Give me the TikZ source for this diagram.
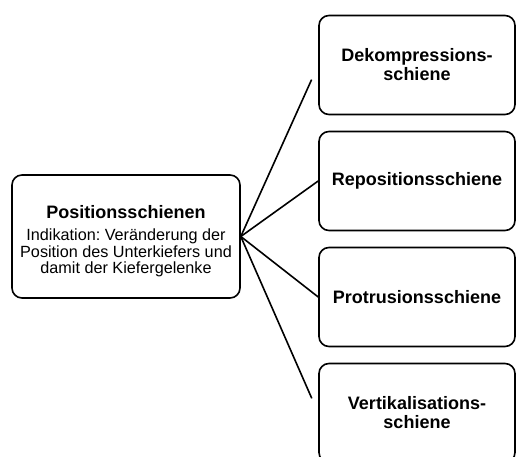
\documentclass[tikz,border=0pt]{standalone}
\usepackage{fontspec}
\setmainfont{Liberation Sans}
\usepackage{tikz}
\usetikzlibrary{positioning}
\frenchspacing
\newcommand{\titlefont}{\fontsize{18pt}{20pt}\selectfont\bfseries}
\newcommand{\bodyfont}{\fontsize{16.2pt}{16.4pt}\selectfont}
\tikzstyle{mainbox} = [
  rectangle, rounded corners=10pt, draw=black, line width=1.6pt,
  fill=white, minimum width=228pt, minimum height=123pt,
  align=center, inner sep=2pt, font=\bodyfont
]
\tikzstyle{schiene} = [
  rectangle, rounded corners=10pt, draw=black, line width=1.6pt,
  fill=white, minimum width=196pt, minimum height=99pt,
  align=center, inner sep=2pt,
  font=\fontsize{18pt}{19pt}\selectfont\bfseries
]
\tikzstyle{link} = [
  line width=1.6pt, color=black
]

\begin{document}
\begin{tikzpicture}[x=1pt, y=1pt, node distance=15.4pt]

  \useasboundingbox (0,0) rectangle (517,-457);
  \clip (0,0) rectangle (517,-457);

  \node[mainbox] (pos) at (126,-236.5)
    {\titlefont\rule{0pt}{22pt}Positionsschienen\\[6pt]
     Indikation: Veränderung der\\
     Position des Unterkiefers und\\ damit der Kiefergelenke};

  \node[schiene] (deko) at (417,-65) {Dekompressions-\\schiene};
  \node[schiene, below=of deko] (repo) {Repositionsschiene};
  \node[schiene, below=of repo] (protru) {Protrusionsschiene};
  \node[schiene, below=of protru] (vertikal) {Vertikalisations-\\schiene};

  \draw[link, shorten >=16pt] (pos.east) -- (deko.west);
  \draw[link] (pos.east) -- (repo.west);
  \draw[link] (pos.east) -- (protru.west);
  \draw[link, shorten >=16pt] (pos.east) -- (vertikal.west);

\end{tikzpicture}
\end{document}
